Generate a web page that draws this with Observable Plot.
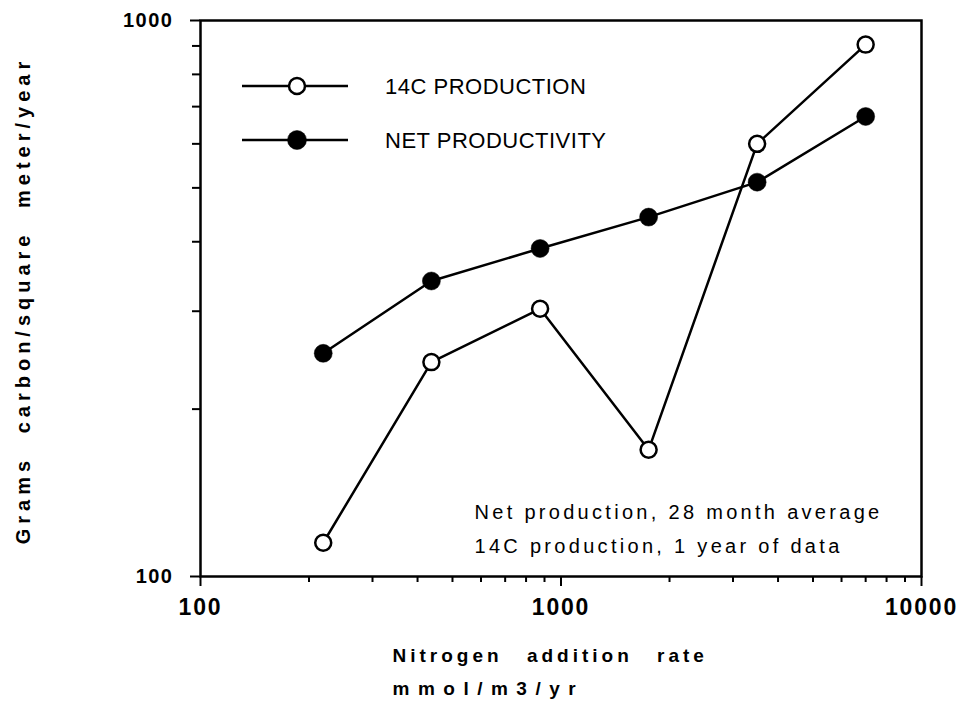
<!DOCTYPE html>
<html><head><meta charset="utf-8">
<script src="https://cdn.jsdelivr.net/npm/d3@7"></script>
<script src="https://cdn.jsdelivr.net/npm/@observablehq/plot@0.6"></script>
<style>
body{margin:0;background:#fff;}
#chart svg{font-family:"Liberation Sans", Arial, sans-serif;}
.xlab1 text, text.xlab1{font-size:19px;letter-spacing:4px;word-spacing:15px;}
.xlab2 text, text.xlab2{font-size:19px;letter-spacing:8.5px;}
.ylab text, text.ylab{font-size:20px;letter-spacing:5px;word-spacing:12px;}
.note text, text.note{font-size:20px;letter-spacing:3.3px;}
.legtext{letter-spacing:0.5px;}
</style></head><body><div id="chart"></div>
<script>
const nitrogen = [219, 437, 875, 1750, 3500, 7000];
const c14Production = [115, 243, 303, 169, 600, 905];
const netProductivity = [252, 340, 389, 443, 512, 672];
const xMajorTicks = [100, 1000, 10000];
const xMinorTicks = [200,300,400,500,600,700,800,900,2000,3000,4000,5000,6000,7000,8000,9000];
const yMajorTicks = [100, 1000];
const yMinorTicks = [200,300,400,500,600,700,800,900];
const seriesNames = ["14C PRODUCTION", "NET PRODUCTIVITY"];
const xLabelLine1 = "Nitrogen addition rate";
const xLabelLine2 = "mmol/m3/yr";
const yLabel = "Grams carbon/square meter/year";
const noteLines = ["Net production, 28 month average", "14C production, 1 year of data"];

const c14 = nitrogen.map((n, i) => ({n, v: c14Production[i]}));
const net = nitrogen.map((n, i) => ({n, v: netProductivity[i]}));

const plot = Plot.plot({
  width: 966, height: 706,
  marginLeft: 200, marginRight: 45, marginTop: 20, marginBottom: 130,
  x: {type: "log", domain: [100, 10000]},
  y: {type: "log", domain: [100, 1000]},
  style: {background: "white", color: "black", fontFamily: "Liberation Sans, Arial, sans-serif"},
  marks: [
    Plot.frame({stroke: "black", strokeWidth: 2.5}),
    Plot.axisX({ticks: xMinorTicks, tickSize: 6, text: null, strokeWidth: 2, label: null}),
    Plot.axisX({ticks: xMajorTicks, tickSize: 10, tickPadding: 12, tickFormat: d => String(d), fontSize: 23, fontWeight: "bold", strokeWidth: 2, label: null}),
    Plot.axisY({ticks: yMinorTicks, tickSize: 8, text: null, strokeWidth: 2, label: null}),
    Plot.axisY({ticks: yMajorTicks, tickSize: 10, tickPadding: 17, tickFormat: d => String(d), fontSize: 20, fontWeight: "bold", strokeWidth: 2, label: null}),
    Plot.line(c14, {x: "n", y: "v", stroke: "black", strokeWidth: 2.5}),
    Plot.line(net, {x: "n", y: "v", stroke: "black", strokeWidth: 2.5}),
    Plot.dot(c14, {x: "n", y: "v", r: 8, fill: "white", stroke: "black", strokeWidth: 2.5}),
    Plot.dot(net, {x: "n", y: "v", r: 9, fill: "black", stroke: "black", strokeWidth: 0.5}),
    Plot.text([noteLines.join("\n")], {text: d => d, frameAnchor: "bottom-left", textAnchor: "start", lineAnchor: "bottom", lineHeight: 1.7, dx: 274, dy: -24, fontSize: 20, className: "note"}),
    Plot.text([xLabelLine1], {text: d => d, frameAnchor: "bottom-left", textAnchor: "start", lineAnchor: "middle", dx: 192, dy: 79, fontSize: 19, fontWeight: "bold", className: "xlab1"}),
    Plot.text([xLabelLine2], {text: d => d, frameAnchor: "bottom-left", textAnchor: "start", lineAnchor: "middle", dx: 192, dy: 112, fontSize: 19, fontWeight: "bold", className: "xlab2"}),
    Plot.text([yLabel], {text: d => d, frameAnchor: "left", textAnchor: "middle", lineAnchor: "middle", rotate: -90, dx: -177, dy: 2, fontSize: 20, fontWeight: "bold", className: "ylab"})
  ]
});
document.getElementById("chart").appendChild(plot);

// letter-spacing for tick labels
const tickStrings = xMajorTicks.concat(yMajorTicks).map(String);
d3.select(plot).selectAll("text").each(function () {
  if (!tickStrings.includes(this.textContent)) return;
  const g = this.closest("g[aria-label]");
  const label = g ? g.getAttribute("aria-label") : "";
  if (!/axis/.test(label)) return;
  const isY = /^y/.test(label);
  d3.select(this).style("letter-spacing", isY ? "1.5px" : "1.8px");
});

// legend (inside the frame, upper left)
const svg = d3.select(plot);
const leg = svg.append("g").attr("aria-label", "legend").attr("text-anchor", "start");
seriesNames.forEach((name, i) => {
  const y = 86 + 54 * i;
  leg.append("line").attr("x1", 242).attr("x2", 348).attr("y1", y).attr("y2", y).attr("stroke", "black").attr("stroke-width", 2.5);
  leg.append("circle").attr("cx", 297).attr("cy", y).attr("r", i === 0 ? 8 : 9.5)
    .attr("fill", i === 0 ? "white" : "black").attr("stroke", "black").attr("stroke-width", i === 0 ? 2.5 : 0.5);
  leg.append("text").attr("class", "legtext").attr("x", 385).attr("y", y).attr("dy", "0.35em")
    .attr("text-anchor", "start").attr("font-size", 22).attr("fill", "black").text(name);
});
</script>
</body></html>
